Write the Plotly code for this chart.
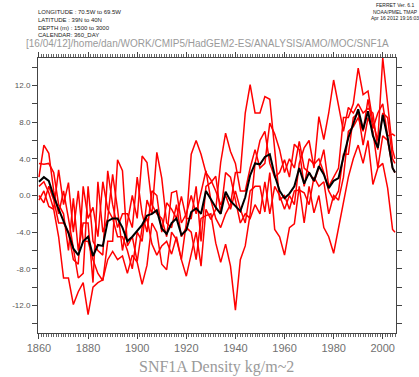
import plotly.graph_objects as go

years = list(range(1860, 2005, 2)) + [2005]

ens_mean = [
    1.5, 2.0, 1.6, -0.1, -1.5, -2.9, -4.1, -5.8, -6.5, -5.0,
    -4.5, -6.6, -5.4, -5.5, -2.8, -2.5, -2.5, -3.5, -5.0, -4.5,
    -3.8, -3.2, -2.2, -2.0, -1.6, -3.6, -4.2, -3.0, -2.5, -4.3,
    -3.8, -1.8, -1.4, -2.0, 0.5, -0.4, -1.3, -2.0, 0.4, -0.6,
    -1.2, -1.7, -0.2, 2.2, 3.5, 3.4, 4.2, 4.5, 2.2, 0.5,
    -0.3, 0.2, 1.0, 3.0, 1.3, 2.5, 1.6, 3.2, 2.3, 0.8,
    1.6, 1.9, 4.2, 6.3, 7.8, 9.4, 7.2, 9.2, 6.5, 5.2,
    8.8, 6.3, 3.0, 2.5,
]

member1 = [
    -0.5, 0.5, -1.2, -1.5, -4.5, -9.0, -9.0, -11.9, -10.5, -9.5,
    -13.0, -10.0, -9.5, -9.2, -7.0, -6.1, -7.0, -6.6, -8.5, -6.5,
    -7.3, -9.7, -7.6, -3.0, -4.0, -7.5, -8.1, -4.0, -4.8, -7.0,
    -3.0, 4.5, 6.0, 4.5, 2.5, 1.7, 0.5, -1.0, 0.0, -1.5,
    0.5, -1.5, -3.0, 0.5, 1.0, 1.0, -1.8, 2.5, -3.7, -4.5,
    -6.5, -3.5, -3.1, 1.0, -3.0, 1.0, -1.9, 0.0, -3.5, -4.5,
    -6.3, -3.5, -1.0, 2.0, 4.0, 5.5, 3.5, 6.0, 1.2, 3.0,
    3.5, 0.8, -3.7, -4.0,
]

member2 = [
    3.5, 3.4, 3.5, 2.5, -1.0, -2.0, -6.0, -0.3, -6.0, -3.0,
    -3.0, -9.5, 1.5, -4.0, -2.5, 2.3, -1.5, -6.0, -3.0, 0.0,
    -2.5, 4.3, 3.6, -1.0, -2.0, -2.5, -4.5, 0.3, 0.5, -3.0,
    -2.0, 0.0, -2.0, 0.5, 2.7, -0.5, -2.5, -3.5, -2.0, -1.0,
    2.5, 2.5, 9.0, 12.1, 9.0, 9.0, 10.8, 10.5, 5.0, -0.5,
    0.0, -1.5, 0.5, 0.6, 0.3, -1.0, 2.0, 1.0, 1.5, -2.0,
    0.0, -0.5, 2.0, 7.0, 7.5, 8.5, 7.0, 10.5, 7.3, 9.0,
    10.0, 6.5, 6.7, 6.5,
]

member3 = [
    2.0, 5.5, 4.6, 0.5, -2.0, 0.5, -2.5, -6.0, -9.0, -8.5,
    1.0, -5.0, -6.0, -6.5, 2.7, -1.0, -3.5, -2.0, -2.0, -3.5,
    2.0, -2.0, -4.0, 0.5, 0.0, -4.0, -0.8, -1.5, -2.5, -0.1,
    -2.5, -2.5, 1.0, -5.0, 1.0, 1.4, 2.1, -2.0, 2.5, 2.0,
    -0.5, -3.0, -2.0, -2.5, -1.0, -2.0, 1.5, -2.0, 1.0, 0.0,
    -1.5, 0.0, -1.0, 3.5, 5.2, 6.0, 3.0, 8.6, 6.1, 9.0,
    12.6, 10.0, 7.0, 9.6, 9.0, 10.0, 9.0, 9.5, 9.0, 5.0,
    9.0, 8.5, 4.0, 3.5,
]

member4 = [
    1.0, 1.5, 0.3, -1.5, 2.8, -1.0, 1.4, -4.0, 0.5, -5.0,
    -5.0, -7.0, -8.5, -9.3, -5.0, -5.0, 3.9, 2.7, -5.5, -4.5,
    -7.2, -3.5, -2.5, -5.3, -6.5, -5.5, -5.0, -6.4, -4.5, -7.0,
    -8.8, -6.5, -4.0, -7.7, -1.5, -2.6, -1.5, 3.6, 6.8, 4.8,
    3.5, 0.5, 0.5, 3.0, 5.0, 3.0, 3.5, 7.9, 6.7, 5.0,
    2.5, 4.0, 3.0, 5.9, 3.0, 2.5, 1.5, 3.0, 5.0, 1.0,
    2.0, 3.0, 8.5, 8.5, 10.0, 13.9, 11.0, 11.4, 8.0, 6.0,
    15.0, 9.9, 5.0, 4.0,
]

member5 = [
    0.0, -0.8, 1.0, -0.5, -3.0, -3.0, -4.0, -7.0, -7.5, 1.0,
    -2.5, -1.3, -4.5, 1.5, -1.5, -2.5, -4.5, -4.5, -6.0, -8.0,
    -4.0, -5.0, -0.5, -2.0, 4.7, 1.9, -3.0, -3.5, -1.0, -4.5,
    -3.5, -4.0, -7.0, -2.5, -2.2, -2.0, -5.2, -7.3, -5.3, -7.7,
    -12.5, -7.0, -5.5, -2.0, 3.5, 6.0, 7.0, 3.5, 2.0, 2.5,
    3.9, 2.0, 5.6, 5.0, 1.0, 4.0, 3.4, 4.0, 2.5, 0.5,
    -0.5, 0.5, 4.5, 4.5, 8.5, 9.0, 5.5, 8.5, 7.0, 3.0,
    6.5, 6.0, 3.0, 2.5,
]

members = [member1, member2, member3, member4, member5]

y_tickvals = list(range(-14, 15, 2))
y_ticktext = [f"{v:.1f}" if v % 4 == 0 else "" for v in y_tickvals]
x_tickvals = [1860, 1880, 1900, 1920, 1940, 1960, 1980, 2000]

title_text = "[16/04/12]/home/dan/WORK/CMIP5/HadGEM2-ES/ANALYSIS/AMO/MOC/SNF1A"
header_left = ["LONGITUDE : 70.5W to 69.5W", "LATITUDE : 39N to 40N",
               "DEPTH (m) : 1500 to 3000", "CALENDAR: 360_DAY"]
header_right = ["FERRET Ver. 6.1", "NOAA/PMEL TMAP", "Apr 16 2012 19:16:03"]
x_label = "SNF1A Density kg/m~2"

fig = go.Figure()
for m in members:
    fig.add_trace(go.Scatter(x=years, y=m, mode="lines",
                             line=dict(color="#ff0000", width=1.5),
                             showlegend=False, hoverinfo="skip"))
fig.add_trace(go.Scatter(x=years, y=ens_mean, mode="lines",
                         line=dict(color="#000000", width=2),
                         showlegend=False, hoverinfo="skip"))

W, H = 419, 377
L, R, T, B = 30, 23, 58, 44
pw, ph = W - L - R, H - T - B

def px(x):
    return (x - L) / pw

def py(y):
    return (H - B - y) / ph

ann = []
ann.append(dict(text=title_text, x=px(203), y=py(44), xref="paper", yref="paper",
                showarrow=False, xanchor="center", yanchor="middle",
                font=dict(family="Liberation Sans, Arial", size=10, color="#9a9a9a")))
ann.append(dict(text="<br>".join(header_left), x=px(28), y=py(7), xref="paper", yref="paper",
                showarrow=False, xanchor="left", yanchor="top", align="left",
                font=dict(family="Liberation Sans, Arial", size=6, color="#222222")))
ann.append(dict(text="<br>".join(header_right), x=px(395), y=py(0), xref="paper", yref="paper",
                showarrow=False, xanchor="center", yanchor="top", align="center",
                font=dict(family="Liberation Sans, Arial", size=5, color="#222222")))
ann.append(dict(text=x_label, x=px(212), y=py(367), xref="paper", yref="paper",
                showarrow=False, xanchor="center", yanchor="middle",
                font=dict(family="Liberation Serif, serif", size=16, color="#9a9a9a")))

axis_common = dict(showline=True, linecolor="#444444", linewidth=1, mirror="allticks",
                   ticks="outside", tickcolor="#444444", showgrid=False, zeroline=False)

fig.update_layout(
    width=W, height=H,
    margin=dict(l=L, r=R, t=T, b=B, pad=0),
    paper_bgcolor="white", plot_bgcolor="white",
    xaxis=dict(range=[1859.6, 2005.4], tickmode="array", tickvals=x_tickvals,
               ticklen=5, tickwidth=1,
               tickfont=dict(family="Liberation Sans, Arial", size=11, color="#707070"),
               minor=dict(dtick=1, tick0=1860, ticklen=3, ticks="outside", tickcolor="#666666"),
               **axis_common),
    yaxis=dict(range=[-15, 15], tickmode="array", tickvals=y_tickvals, ticktext=y_ticktext,
               ticklen=5, tickwidth=1,
               tickfont=dict(family="Liberation Sans, Arial", size=8, color="#555555"),
               **axis_common),
    annotations=ann,
)

fig.write_html("out.html", config={"displayModeBar": False, "staticPlot": True},
               post_script="document.body.style.margin='0';document.body.style.overflow='hidden';")
